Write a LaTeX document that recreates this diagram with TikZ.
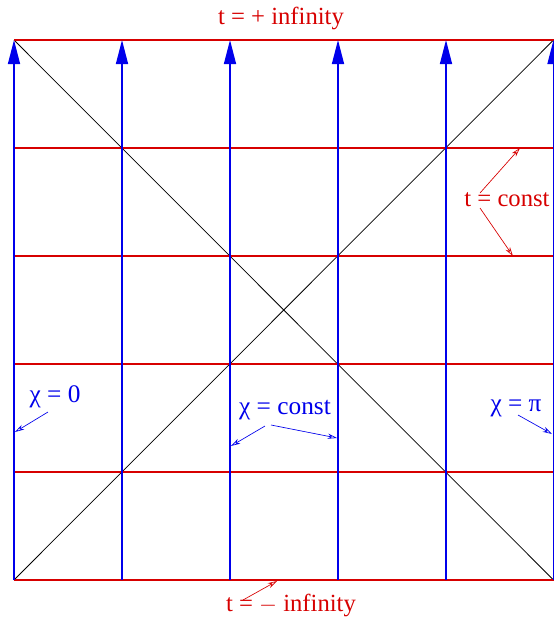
\documentclass[tikz,border=0pt]{standalone}
\usepackage{fontspec}
\setmainfont{Liberation Serif}
\usetikzlibrary{arrows.meta}
\definecolor{gridred}{RGB}{215,0,0}
\definecolor{gridblue}{RGB}{0,0,235}

\begin{document}
\begin{tikzpicture}[
  x=0.75pt, y=-0.75pt,
  diag/.style={draw=black, line width=0.55pt},
  tline/.style={draw=gridred, line width=1.1pt},
  chiline/.style={
    draw=gridblue,
    line width=1.1pt,
    -{Triangle[length=18pt,width=9pt]}
  },
  tlabel/.style={text=gridred, font=\fontsize{18.5}{20}\selectfont, inner sep=1pt},
  chilabel/.style={text=gridblue, font=\fontsize{19}{20}\selectfont, inner sep=1pt},
  tpointer/.style={draw=gridred, line width=0.5pt, -{Stealth[open,length=7pt,width=4pt]}},
  chipointer/.style={draw=gridblue, line width=0.5pt, -{Stealth[open,length=7pt,width=4pt]}}
]
\useasboundingbox (0,0) rectangle (554,619);

% diagonals
\draw[diag] (14,40) -- (553.5,580);
\draw[diag] (14,580) -- (553.5,40);

% t = const lines
\foreach \y in {40,148,256,364,472,580}
  \draw[tline] (14,\y) -- (553.5,\y);

% chi = const lines
\foreach \x in {14,122,230,338,446,553.5}
  \draw[chiline] (\x,580) -- (\x,40);

% labels
\node[tlabel] (tplus) at (281,18) {t = + infinity};
\node[tlabel] (tminus) at (291,605) {t = $-$ infinity};
\node[tlabel] (tconst) at (507,200) {t = const};
\node[chilabel] (chizero) at (55,397) {χ = 0};
\node[chilabel] (chiconst) at (285,410) {χ = const};
\node[chilabel] (chipi) at (516,408) {χ = π};

% pointer ends
\coordinate (tc1) at (520,148);
\coordinate (tc2) at (513,256);
\coordinate (tm) at (277,581);
\coordinate (cz) at (15,432);
\coordinate (cc1) at (231,446);
\coordinate (cc2) at (337,438);
\coordinate (cp) at (552,434);

\draw[tpointer] (480,193) -- (tc1);
\draw[tpointer] (480,208) -- (tc2);
\draw[tpointer] (243,600) -- (tm);
\draw[chipointer] (48,412) -- (cz);
\draw[chipointer] (265,426) -- (cc1);
\draw[chipointer] (271,425) -- (cc2);
\draw[chipointer] (518,415) -- (cp);
\end{tikzpicture}
\end{document}
